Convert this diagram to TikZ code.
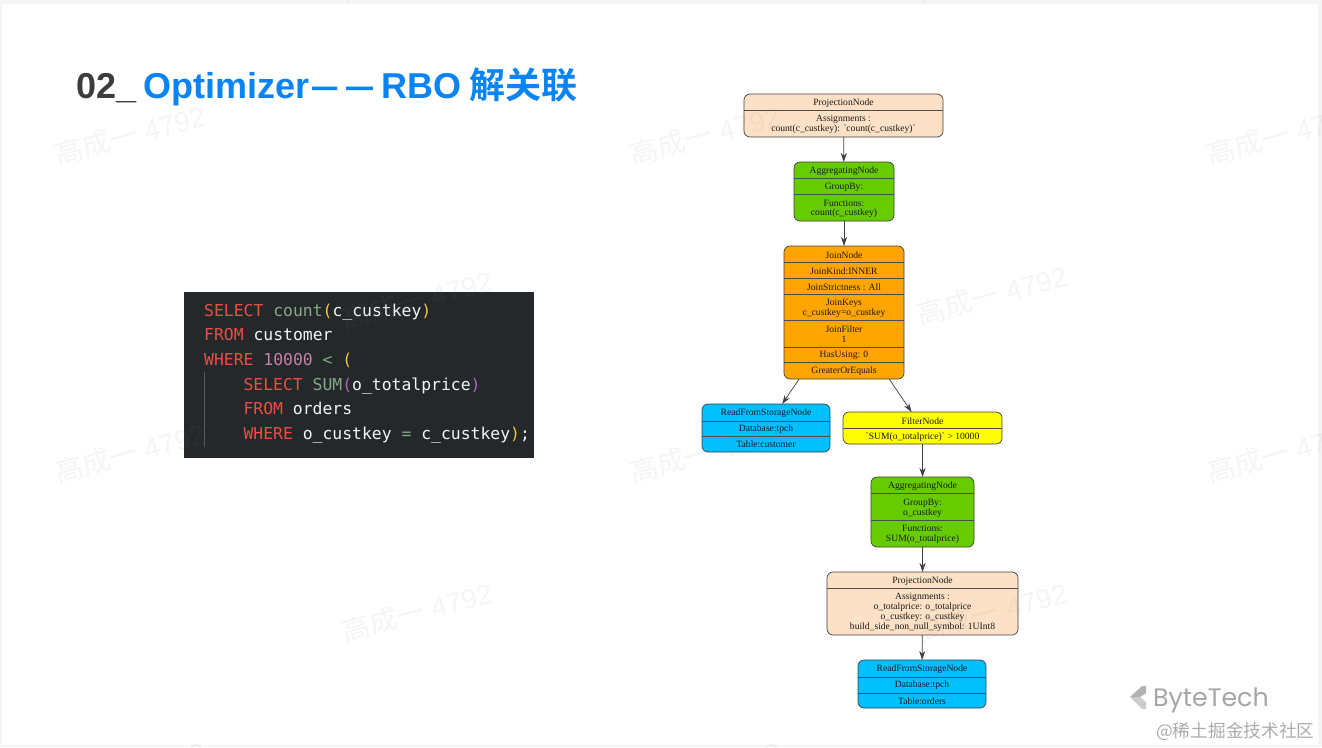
\documentclass[tikz,border=0pt]{standalone}
\usepackage{fontspec}
\usepackage{graphicx}
\usetikzlibrary{arrows.meta}
\setmainfont{Liberation Sans}
\setmonofont{DejaVu Sans Mono}
\newfontfamily\nodefont{Liberation Serif}
\newfontfamily\cjkbold[BoldFont=Noto Sans CJK SC Bold]{Noto Sans CJK SC}
\newfontfamily\cjk{Noto Sans CJK SC}
\newfontfamily\logofont{Poppins}
\definecolor{bisquefill}{HTML}{FDE1C6}
\definecolor{aggfill}{HTML}{66CC00}
\definecolor{joinfill}{HTML}{FFA500}
\definecolor{readfill}{HTML}{00BFFF}
\definecolor{filterfill}{HTML}{FFFF00}
\definecolor{titleblue}{HTML}{0A84F5}
\definecolor{titledark}{HTML}{3C3C3C}
\definecolor{panelbg}{HTML}{24282A}
\definecolor{kw}{HTML}{EA4F42}
\definecolor{fn}{HTML}{86A886}
\definecolor{pr}{HTML}{F5C82E}
\definecolor{num}{HTML}{C77FA8}
\definecolor{pur}{HTML}{B45FC0}
\definecolor{plain}{HTML}{F4F4F4}
% box with its rows: name, fill, left, top, right, bottom, separators, rows
\newcommand{\recordbox}[8]{
	\node[record, fill=#2, minimum width={#5-#3}, minimum height={#6-#4}] (#1) at ({(#3+#5)/2}, {(#4+#6)/2}) {};
	\foreach \y in {#7}
		\draw[recordline] (#1.west |- 0,\y) -- (#1.east |- 0,\y);
	\foreach \y/\t [count=\i] in {#8}
		\node[rowtext] (#1-\i) at (#1.center |- 0,\y) {\t};
}
\begin{document}
\begin{tikzpicture}[x=1pt, y=-1pt,
		record/.style={draw=black!75, line width=0.7pt, rounded corners=6pt, inner sep=0pt, outer sep=0pt},
		recordline/.style={draw=black!70, line width=0.5pt},
		rowtext/.style={font=\nodefont\fontsize{9.6}{9.6}\selectfont, text=black!90, inner sep=0pt, yshift=-0.5pt},
		link/.style={draw=black!75, line width=0.7pt, -{Stealth[length=9pt, width=6pt]}},
		codeline/.style={font=\ttfamily\fontsize{16.4}{16.4}\selectfont, text=plain, anchor=base west, inner sep=0pt},
		mark4792/.style={font=\fontsize{28}{28}\selectfont, text=gray, opacity=0.08, rotate=15, inner sep=0pt}]
	\useasboundingbox (0, 0) rectangle (1322, 747);
	\fill[black!4] (0, 0) rectangle (1322, 747);
	\fill[white] (2, 4) rectangle (1318, 745);

	% title
	\node[anchor=base west, inner sep=0pt, font=\bfseries\fontsize{36}{36}\selectfont] (title) at (76, 98) {\textcolor{titledark}{02\_}\kern7pt\textcolor{titleblue}{Optimizer\kern3pt\scalebox{0.7}[1]{—}\kern9pt\scalebox{0.75}[1]{—}\kern8pt RBO\kern-2pt{} {\cjkbold\bfseries 解关联}}};

	% code
	\fill[panelbg] (184, 292) rectangle (534, 458);
	\draw[black!65, line width=0.6pt] (204, 372) -- (204, 447);
	\foreach \x/\y/\t [count=\i] in {
		204/316/{\textcolor{kw}{SELECT} \textcolor{fn}{count}\textcolor{pr}{(}c\_custkey\textcolor{pr}{)}},
		204/340.5/{\textcolor{kw}{FROM} customer},
		204/365/{\textcolor{kw}{WHERE} \textcolor{num}{10000} \textcolor{fn}{<} \textcolor{pr}{(}},
		243.4/390/{\textcolor{kw}{SELECT} \textcolor{fn}{SUM}\textcolor{pur}{(}o\_totalprice\textcolor{pur}{)}},
		243.4/414.5/{\textcolor{kw}{FROM} orders},
		243.4/439/{\textcolor{kw}{WHERE} o\_custkey \textcolor{fn}{=} c\_custkey\textcolor{pr}{)};}}
		\node[codeline] (code\i) at (\x, \y) {\t};

	% plan tree
	\recordbox{projtop}{bisquefill}{744}{94}{943}{137}{110}{102.5/ProjectionNode, 118.5/{Assignments :}, 128.5/{count(c\_custkey): `count(c\_custkey)`}}
	\recordbox{aggtop}{aggfill}{794}{162}{894}{221}{178, 194}{170.5/AggregatingNode, 186.5/{GroupBy:}, 202.5/{Functions:}, 212.5/{count(c\_custkey)}}
	\recordbox{join}{joinfill}{784}{246}{904}{379}{262, 278, 294, 320, 347, 362}{254.5/JoinNode, 270.5/{JoinKind:INNER}, 286.5/{JoinStrictness : All}, 302.5/JoinKeys, 312.5/{c\_custkey=o\_custkey}, 328.5/JoinFilter, 338.5/1, 354.5/{HasUsing: 0}, 370.5/GreaterOrEquals}
	\recordbox{readcust}{readfill}{702}{404}{830}{452}{421, 436}{412.5/ReadFromStorageNode, 428.5/{Database:tpch}, 444/{Table:customer}}
	\recordbox{filter}{filterfill}{843}{412}{1002}{444}{428}{420.5/FilterNode, 436.5/{`SUM(o\_totalprice)` > 10000}}
	\recordbox{aggbot}{aggfill}{871}{477}{974}{547}{493, 520}{485.5/AggregatingNode, 502.5/{GroupBy:}, 512.5/{o\_custkey}, 527.5/{Functions:}, 538.5/{SUM(o\_totalprice)}}
	\recordbox{projbot}{bisquefill}{827}{572}{1018}{635}{588}{580.5/ProjectionNode, 596.5/{Assignments :}, 606.5/{o\_totalprice: o\_totalprice}, 616.5/{o\_custkey: o\_custkey}, 627/{build\_side\_non\_null\_symbol: 1UInt8}}
	\recordbox{readord}{readfill}{858}{660}{986}{708}{677, 693}{669/ReadFromStorageNode, 684.5/{Database:tpch}, 700.5/{Table:orders}}

	\foreach \a/\b in {projtop/aggtop, aggtop/join, join/readcust, join/filter, filter/aggbot, aggbot/projbot, projbot/readord}
		\draw[link] (\a) -- (\b);

	% logo, bottom right
	\fill[gray!60] (1130, 697) -- (1142, 686) -- (1146, 686) -- (1146, 693) -- (1140, 697) -- cycle;
	\fill[gray!40] (1130, 697) -- (1140, 697) -- (1146, 702) -- (1146, 709) -- (1142, 709) -- cycle;
	\node[anchor=base west, inner sep=0pt, text=gray!70, font=\logofont\fontsize{25.3}{25.3}\selectfont] (logo) at (1153, 706) {ByteTech};
	\node[anchor=base west, inner sep=0pt, text=gray!65, font=\cjk\fontsize{17.7}{17.7}\selectfont] (site) at (1156, 737) {@稀土掘金技术社区};

	% name stamps across the page
	\foreach \x/\y [count=\i] in {130/135, 705/135, 1282/135, 417/300, 992/295, 130/453, 705/453, 1282/453, 417/612, 992/612, 417/-28, 992/-28, 130/771, 705/771, 1282/771}
		\node[mark4792] (stamp\i) at (\x, \y) {{\cjk 高成一} 4792};
\end{tikzpicture}
\end{document}
